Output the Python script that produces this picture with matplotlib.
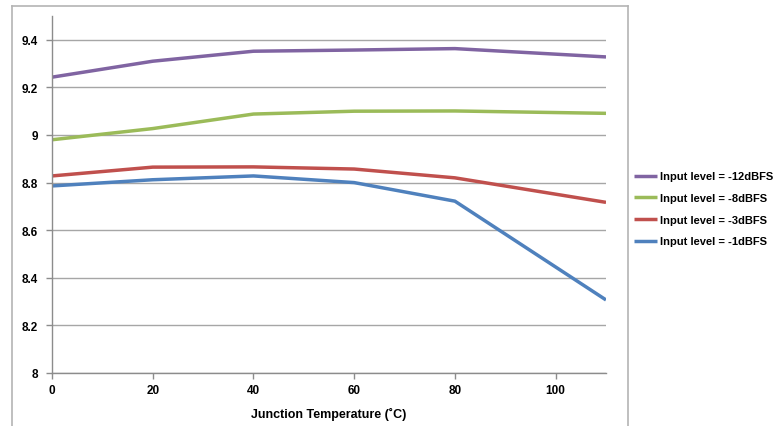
import numpy as np
import matplotlib.pyplot as plt
from matplotlib.lines import Line2D

plt.rcParams['font.family'] = ['Liberation Sans', 'DejaVu Sans']
plt.rcParams['font.weight'] = 'bold'

temps = [0, 20, 40, 60, 80, 110]
level_12 = [9.243, 9.31, 9.352, 9.357, 9.363, 9.328]
level_8 = [8.98, 9.027, 9.088, 9.100, 9.101, 9.091]
level_3 = [8.828, 8.865, 8.866, 8.857, 8.820, 8.717]
level_1 = [8.786, 8.812, 8.828, 8.800, 8.722, 8.307]

series = [
    ("Input level = -12dBFS", level_12, "#8064A2"),
    ("Input level = -8dBFS", level_8, "#9BBB59"),
    ("Input level = -3dBFS", level_3, "#C0504D"),
    ("Input level = -1dBFS", level_1, "#4F81BD"),
]

fig = plt.figure(figsize=(7.82, 4.27), dpi=100)
ax = fig.add_axes([52 / 782, 1 - 374 / 427, (606 - 52) / 782, (374 - 17) / 427])

for label, vals, color in series:
    ax.plot(temps, vals, color=color, lw=2.5, label=label, solid_capstyle='butt')

ax.set_xlim(0, 110)
ax.set_ylim(8, 9.5)
ax.set_xticks([0, 20, 40, 60, 80, 100])
ax.set_yticks([8, 8.2, 8.4, 8.6, 8.8, 9, 9.2, 9.4])
ax.set_yticklabels(["8", "8.2", "8.4", "8.6", "8.8", "9", "9.2", "9.4"])
ax.grid(axis="y", color="#a6a6a6", lw=1)
ax.set_axisbelow(True)

for s in ["top", "right"]:
    ax.spines[s].set_visible(False)
for s in ["left", "bottom"]:
    ax.spines[s].set_color("#8c8c8c")
    ax.spines[s].set_linewidth(1)
ax.tick_params(axis="both", color="#8c8c8c", length=4, width=1, labelsize=8.5)
ax.tick_params(axis="x", pad=4)
ax.tick_params(axis="y", pad=6)
ax.set_xlabel("Junction Temperature (˚C)", fontsize=9, fontweight="bold", labelpad=8)

fig.legend(loc="center left", bbox_to_anchor=(624 / 782, 1 - 210 / 427), frameon=False,
           fontsize=8, handlelength=2.1, handletextpad=0.25, labelspacing=1.05)

# outer chart frame
fc = "#b4b4b4"
fig.add_artist(Line2D([12 / 782, 628 / 782], [1 - 7 / 427, 1 - 7 / 427], color=fc, lw=1.2))
fig.add_artist(Line2D([12 / 782, 12 / 782], [0, 1 - 7 / 427], color=fc, lw=1.2))
fig.add_artist(Line2D([628 / 782, 628 / 782], [0, 1 - 7 / 427], color=fc, lw=1.2))

fig.savefig("out.png", dpi=100)
